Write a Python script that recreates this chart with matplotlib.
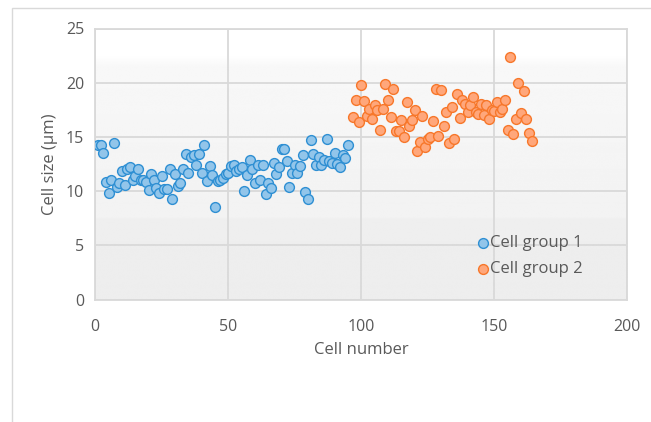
import matplotlib
matplotlib.use("Agg")
import matplotlib.pyplot as plt
import numpy as np
from matplotlib.patches import Rectangle

# ---------------- data ----------------
group1_size = [14.3, 14.3, 13.5, 10.8, 9.85, 11.0, 14.45, 10.4, 10.75, 11.9,
               10.55, 12.0, 12.2, 11.0, 11.4, 12.0, 11.05, 11.0, 10.85, 10.1,
               11.55, 11.0, 10.3, 9.85, 11.4, 10.2, 10.2, 12.05, 9.25, 11.55,
               10.45, 10.75, 12.0, 13.45, 11.7, 13.15, 13.35, 12.45, 13.45, 11.7,
               14.25, 10.9, 12.3, 11.5, 8.5, 10.9, 11.0, 11.2, 11.55, 11.7,
               12.3, 12.45, 11.85, 12.05, 12.2, 10.0, 11.45, 12.9, 12.0, 10.75,
               12.45, 11.0, 12.45, 9.7, 10.75, 10.25, 12.6, 11.55, 12.2, 13.85,
               13.9, 12.75, 10.4, 11.7, 12.45, 11.7, 12.3, 13.3, 9.9, 9.3,
               14.7, 13.45, 12.4, 13.15, 12.4, 12.9, 14.8, 12.75, 12.6, 13.55,
               12.5, 12.25, 13.35, 13.05, 14.25]
group1_cell = list(range(1, len(group1_size) + 1))

group2_size = [16.85, 18.45, 16.4, 19.75, 18.3, 16.9, 17.6, 16.7, 17.9, 17.5,
               15.65, 17.6, 19.9, 18.45, 16.85, 19.45, 15.55, 15.55, 16.6, 14.95,
               18.2, 16.0, 16.55, 17.5, 13.7, 14.55, 16.9, 14.1, 14.85, 15.0,
               16.45, 19.45, 15.05, 19.35, 16.05, 17.3, 14.45, 17.75, 14.85, 19.0,
               16.75, 18.45, 18.0, 17.3, 17.9, 18.7, 17.3, 17.1, 18.0, 17.0,
               17.9, 16.7, 17.45, 17.4, 18.2, 17.3, 17.6, 18.45, 15.6, 22.35,
               15.3, 16.7, 19.95, 17.2, 19.2, 16.7, 15.35, 14.65]
group2_cell = list(range(97, 97 + len(group2_size)))

series_names = ["Cell group 1", "Cell group 2"]
x_ticks = [0, 50, 100, 150, 200]
y_ticks = [0, 5, 10, 15, 20, 25]

# ---------------- style ----------------
plt.rcParams['font.family'] = ['Open Sans', 'DejaVu Sans']
W, H = 651, 422
fig = plt.figure(figsize=(W / 100, H / 100), dpi=100)
fig.patch.set_facecolor('white')

# outer chart border (partially visible)
fig.add_artist(Rectangle((12 / W, -0.1), 1.2, (H - 8) / H + 0.1,
                         transform=fig.transFigure, fill=False,
                         edgecolor='#d9d9d9', linewidth=1.0))

left, right, top, bottom = 95.3, 627.3, 28.5, 299.6
ax = fig.add_axes([left / W, 1 - bottom / H, (right - left) / W, (bottom - top) / H])

# background gradient
grad_y = np.linspace(0, 25, 300)
vals = np.interp(grad_y, [0, 7.4, 7.6, 21.5, 22.5, 25],
                 [0.93, 0.935, 0.95, 0.972, 1.0, 1.0])
img = np.repeat(vals[:, None], 2, axis=1)
ax.imshow(img, extent=[0, 200, 0, 25], origin='lower', aspect='auto',
          cmap='gray', vmin=0, vmax=1, zorder=0, interpolation='bilinear')

ax.set_xlim(0, 200)
ax.set_ylim(0, 25)
ax.set_xticks(x_ticks)
ax.set_yticks(y_ticks)
ax.grid(True, color='#d9d9d9', linewidth=1.3, zorder=1)
ax.set_axisbelow(True)
for s in ax.spines.values():
    s.set_color('#d9d9d9')
    s.set_linewidth(1.3)
ax.tick_params(length=0, colors='#595959', labelsize=11.5)
ax.tick_params(axis='x', pad=14)
ax.tick_params(axis='y', pad=8)

ax.set_xlabel('Cell number', fontsize=12, color='#595959', labelpad=5)
ax.set_ylabel('Cell size (μm)', fontsize=12, color='#595959', labelpad=6)

ax.scatter(group1_cell, group1_size, s=50, facecolor='#92C5EA', edgecolor='#2E8FD3',
           linewidth=1.0, zorder=3, label=series_names[0])
ax.scatter(group2_cell, group2_size, s=50, facecolor='#FFA77B', edgecolor='#F7772A',
           linewidth=1.0, zorder=3, label=series_names[1])

leg = ax.legend(loc='upper left',
                bbox_to_anchor=((474 - left) / (right - left), (bottom - 235) / (bottom - top)),
                frameon=False, fontsize=12, handletextpad=-0.15, labelspacing=0.6,
                handlelength=1.1, borderaxespad=0, borderpad=0, markerscale=1.0)
for t in leg.get_texts():
    t.set_color('#595959')

fig.savefig('out.png', dpi=100)
